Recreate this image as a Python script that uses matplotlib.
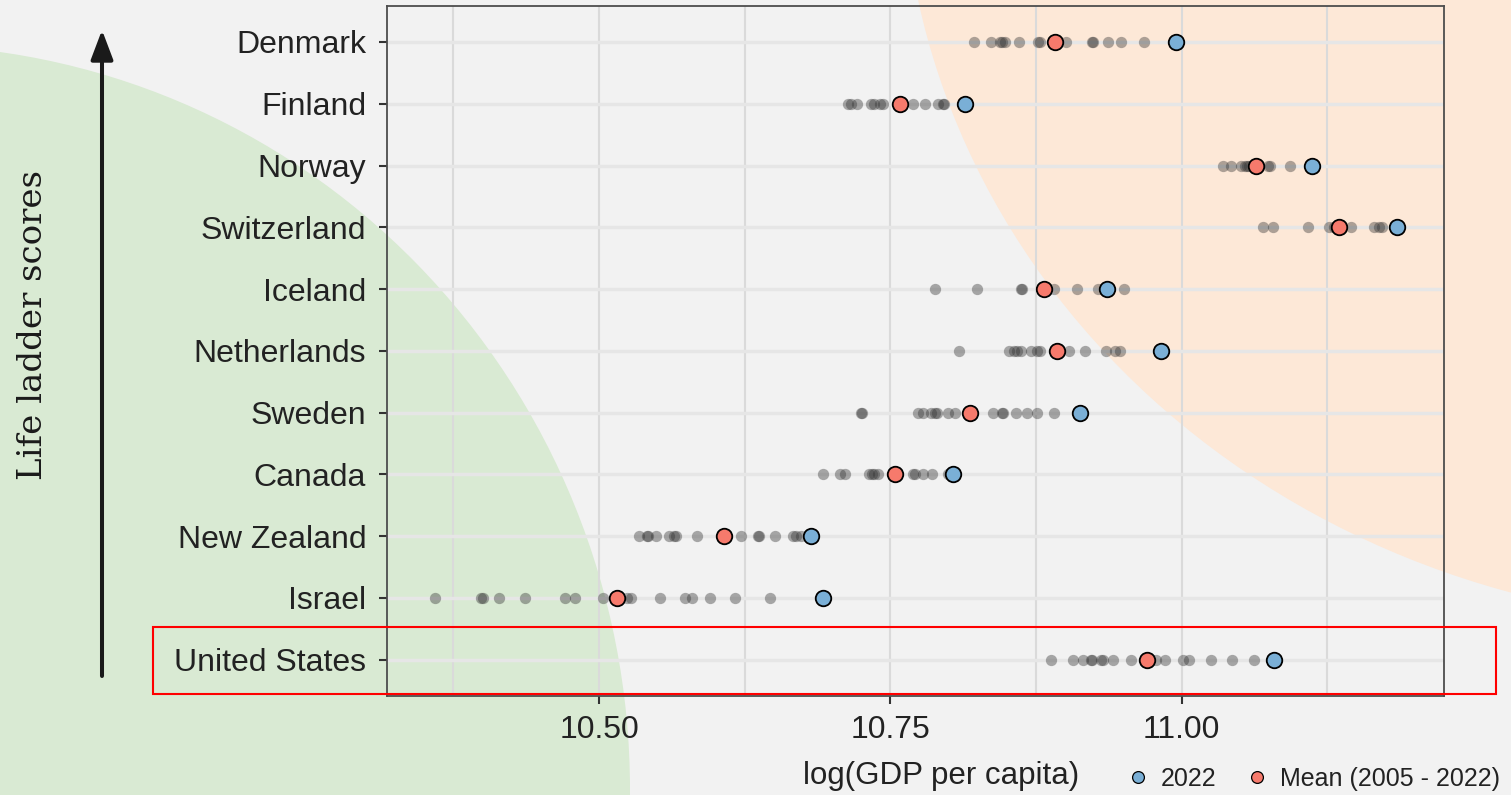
import matplotlib.pyplot as plt
from matplotlib.lines import Line2D
from matplotlib.patches import Ellipse, Rectangle
from matplotlib.ticker import FixedLocator, MultipleLocator

plt.rcParams["font.family"] = ["Liberation Sans", "DejaVu Sans"]

countries = [
    "Denmark", "Finland", "Norway", "Switzerland", "Iceland", "Netherlands",
    "Sweden", "Canada", "New Zealand", "Israel", "United States",
]

# log GDP per capita, earlier years (grey dots)
denmark_hist = [10.822, 10.836, 10.844, 10.846, 10.848, 10.860, 10.877, 10.878,
                10.901, 10.923, 10.924, 10.937, 10.948, 10.968]
finland_hist = [10.714, 10.716, 10.721, 10.733, 10.736, 10.741, 10.744, 10.769,
                10.780, 10.791, 10.795, 10.796]
norway_hist = [11.035, 11.042, 11.051, 11.054, 11.056, 11.058, 11.074, 11.076, 11.093]
switzerland_hist = [11.070, 11.078, 11.108, 11.126, 11.131, 11.145, 11.165, 11.169, 11.172]
iceland_hist = [10.788, 10.824, 10.862, 10.863, 10.890, 10.910, 10.928, 10.950]
netherlands_hist = [10.809, 10.852, 10.856, 10.859, 10.862, 10.871, 10.876, 10.878,
                    10.903, 10.917, 10.935, 10.943, 10.947]
sweden_hist = [10.725, 10.726, 10.774, 10.778, 10.785, 10.788, 10.790, 10.799, 10.805,
               10.838, 10.846, 10.847, 10.858, 10.867, 10.876, 10.890]
canada_hist = [10.692, 10.707, 10.711, 10.732, 10.734, 10.736, 10.739, 10.769, 10.771,
               10.778, 10.786, 10.799]
new_zealand_hist = [10.534, 10.541, 10.542, 10.549, 10.560, 10.564, 10.566, 10.584,
                    10.622, 10.636, 10.637, 10.651, 10.666, 10.669, 10.673]
israel_hist = [10.359, 10.399, 10.400, 10.414, 10.436, 10.471, 10.479, 10.503, 10.524,
               10.527, 10.552, 10.574, 10.580, 10.595, 10.617, 10.647]
usa_hist = [10.888, 10.907, 10.915, 10.922, 10.923, 10.931, 10.932, 10.941, 10.956,
            10.978, 10.986, 11.001, 11.006, 11.025, 11.043, 11.062]

history = [denmark_hist, finland_hist, norway_hist, switzerland_hist, iceland_hist,
           netherlands_hist, sweden_hist, canada_hist, new_zealand_hist, israel_hist,
           usa_hist]

mean_2005_2022 = [10.891, 10.758, 11.064, 11.135, 10.882, 10.893, 10.818, 10.754,
                  10.607, 10.515, 10.970]
gdp_2022 = [10.995, 10.814, 11.112, 11.185, 10.936, 10.982, 10.913, 10.804,
            10.682, 10.692, 11.079]

BG = "#f2f2f2"
BLUE = "#7aafd6"
RED = "#f67a6c"
TXT = "#222222"

fig = plt.figure(figsize=(15.11, 7.95), dpi=100, facecolor=BG)

# background layer in pixel coords
bg = fig.add_axes([0, 0, 1, 1], zorder=0)
bg.set_xlim(0, 1511)
bg.set_ylim(795, 0)
bg.axis("off")
bg.add_patch(Ellipse((-100, 790), 1460, 1490, color="#d9ead3", lw=0))
bg.add_patch(Ellipse((1750, -150), 1696, 1548, color="#fde8d7", lw=0))

bg.annotate("", xy=(102, 30), xytext=(102, 676),
            arrowprops=dict(arrowstyle="-|>,head_length=0.9,head_width=0.34",
                            mutation_scale=20, lw=2.9, color="#1a1a1a",
                            shrinkA=0, shrinkB=0))
bg.text(33, 325, "Life ladder scores", rotation=90, ha="center", va="center",
        family="DejaVu Serif", fontsize=24.5, color="#1a1a1a")

ax = fig.add_axes([387 / 1511, 1 - 696 / 795, (1444 - 387) / 1511, (696 - 5.7) / 795],
                  zorder=1)
ax.set_facecolor("none")

ypos = list(range(len(countries)))
for y, vals in zip(ypos, history):
    ax.scatter(vals, [y] * len(vals), s=66, color="#333333", alpha=0.4,
               lw=0, zorder=3)
ax.scatter(mean_2005_2022, ypos, s=125, color=RED, edgecolor="black",
           lw=1.3, zorder=4)
ax.scatter(gdp_2022, ypos, s=125, color=BLUE, edgecolor="black",
           lw=1.3, zorder=4)

ax.set_xlim(10.318, 11.225)
ax.set_ylim(len(countries) - 1 + 0.587, -0.587)
ax.xaxis.set_major_locator(FixedLocator([10.5, 10.75, 11.0]))
ax.xaxis.set_minor_locator(MultipleLocator(0.125))
ax.set_yticks(ypos)
ax.set_yticklabels(countries)
ax.set_xticklabels(["10.50", "10.75", "11.00"])

ax.grid(True, axis="x", which="both", color="#dadada", lw=1.5, zorder=1)
ax.grid(True, axis="y", which="major", color="#e6e6e6", lw=2.5, zorder=1)
ax.set_axisbelow(True)

ax.tick_params(axis="both", which="major", length=6, width=1.5, color="#333333",
               labelsize=23, labelcolor=TXT)
ax.tick_params(axis="y", pad=9)
ax.tick_params(axis="x", pad=8)
ax.tick_params(axis="x", which="minor", length=0)
for sp in ax.spines.values():
    sp.set_color("#4d4d4d")
    sp.set_linewidth(1.3)

fig.text(941 / 1511, 1 - 776 / 795, "log(GDP per capita)", ha="center", va="center",
         fontsize=22.5, color=TXT)

handles = [
    Line2D([], [], ls="none", marker="o", ms=8.5, mfc=BLUE, mec="black", mew=0.9),
    Line2D([], [], ls="none", marker="o", ms=8.5, mfc=RED, mec="black", mew=0.9),
]
leg = fig.legend(handles, ["2022", "Mean (2005 - 2022)"], ncol=2, frameon=False,
                 loc="center left", bbox_to_anchor=(1128 / 1511, 1 - 779 / 795),
                 borderpad=0, borderaxespad=0, handlelength=0.8, handletextpad=0.52,
                 columnspacing=1.2, fontsize=18)
for t in leg.get_texts():
    t.set_color(TXT)

# highlight box around United States
ax.add_patch(Rectangle((153, 627), 1496 - 153, 694 - 627, transform=bg.transData,
                       fill=False, edgecolor="#ff0000", lw=1.5, clip_on=False,
                       zorder=10))

fig.savefig("out.png", dpi=100, facecolor=BG)
